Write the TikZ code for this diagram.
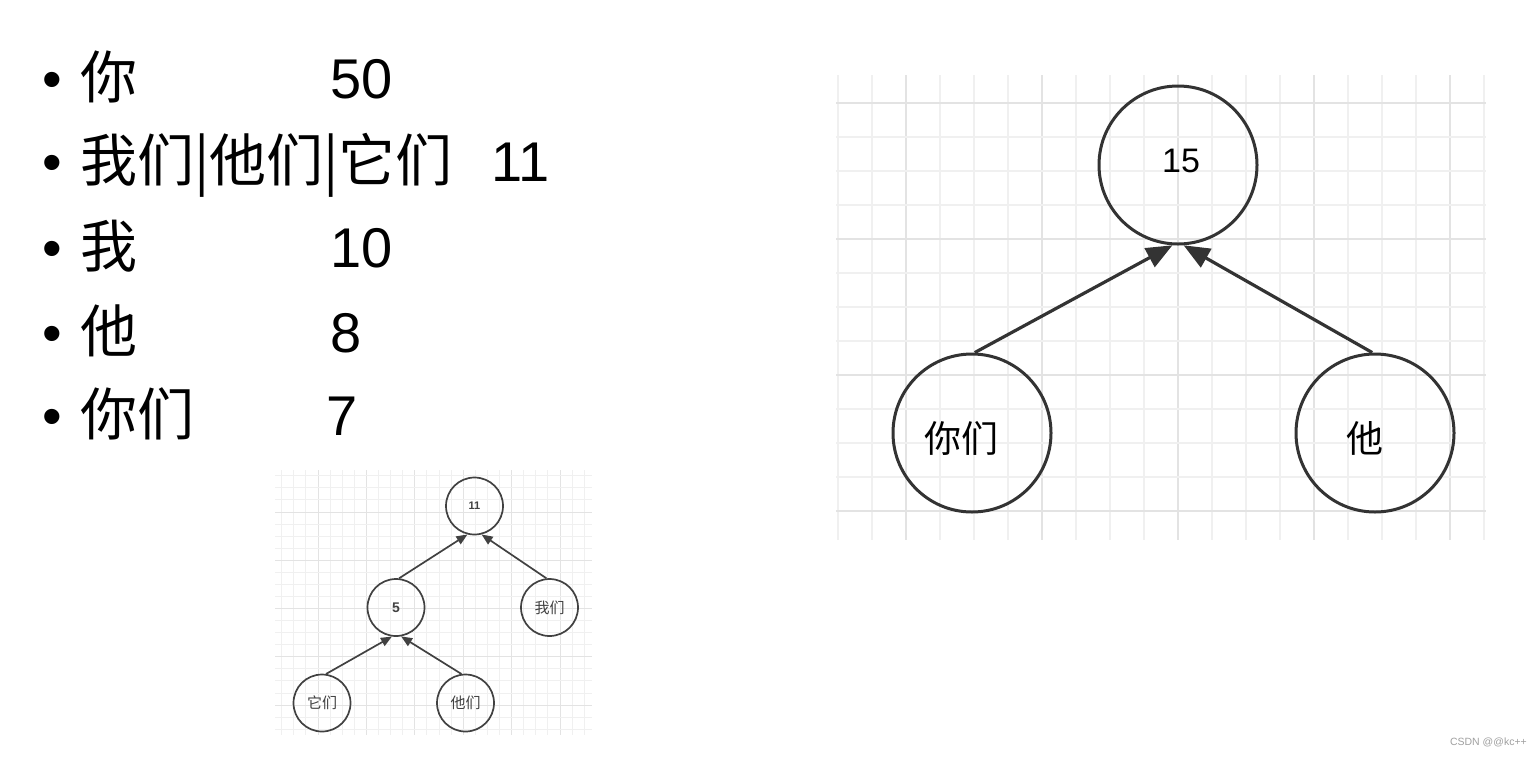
\documentclass[tikz,border=0pt]{standalone}
\usepackage{fontspec}
\setmainfont{Liberation Sans}
\newfontfamily\cjk{Noto Sans CJK SC}
\usetikzlibrary{arrows.meta}
\definecolor{gridl}{RGB}{240,240,240}
\definecolor{gridd}{RGB}{227,227,227}
\definecolor{ink}{RGB}{51,51,51}
\definecolor{softink}{RGB}{65,65,65}
\definecolor{wm}{RGB}{160,160,160}
\begin{document}
\begin{tikzpicture}[x=1pt,y=-1pt,
  bignode/.style={circle,draw=ink,line width=3pt,minimum size=158pt,inner sep=0pt},
  smallnode/.style={circle,draw=softink,line width=1.7pt,minimum size=57pt,inner sep=0pt,text=softink},
  bigarrow/.style={draw=ink,line width=3.2pt,-{Triangle[length=26pt,width=21pt]}},
  smallarrow/.style={draw=softink,line width=1.7pt,-{Triangle[length=11pt,width=9pt]}},
  listtxt/.style={anchor=base west,inner sep=0pt,font=\cjk\fontsize{57pt}{60pt}\selectfont},
  listnum/.style={anchor=base west,inner sep=0pt,font=\fontsize{56pt}{60pt}\selectfont},
  bulletmark/.style={anchor=base,inner sep=0pt,font=\fontsize{56pt}{60pt}\selectfont},
  bigcjk/.style={font=\cjk\fontsize{37pt}{40pt}\selectfont},
  smallcjk/.style={font=\cjk\fontsize{15pt}{17pt}\selectfont},
]
\useasboundingbox (0,0) rectangle (1536,756);
\fill[white] (0,0) rectangle (1536,756);

% ---------- big grid ----------
\foreach \k in {0,...,19}{
  \pgfmathtruncatemacro{\m}{mod(\k,4)}
  \ifnum\m=2 \def\gc{gridd}\else\def\gc{gridl}\fi
  \draw[\gc,line width=1.6pt] ({838+34*\k},75) -- ({838+34*\k},540);
}
\foreach \k in {0,...,12}{
  \pgfmathtruncatemacro{\m}{mod(\k,4)}
  \ifnum\m=0 \def\gc{gridd}\else\def\gc{gridl}\fi
  \draw[\gc,line width=1.6pt] (836,{103+34*\k}) -- (1486,{103+34*\k});
}

% ---------- small grid ----------
\foreach \k in {-3,...,22}{
  \pgfmathtruncatemacro{\m}{mod(\k+40,4)}
  \ifnum\m=0 \def\gc{gridd}\else\def\gc{gridl}\fi
  \draw[\gc,line width=1pt] ({318+12.1*\k},470) -- ({318+12.1*\k},735);
}
\foreach \k in {-3,...,18}{
  \pgfmathtruncatemacro{\m}{mod(\k+40,4)}
  \ifnum\m=0 \def\gc{gridd}\else\def\gc{gridl}\fi
  \draw[\gc,line width=1pt] (275,{512+12.07*\k}) -- (592,{512+12.07*\k});
}

% ---------- list ----------
\foreach \b [count=\i] in {98,181,267,352,435}{
  \node[bulletmark] (bul\i) at (52,\b) {•};
}
\node[listtxt] (t1) at (80,98) {你};
\node[listtxt] (t2) at (80,181) {我们|他们|它们};
\node[listtxt] (t3) at (80,267) {我};
\node[listtxt] (t4) at (80,352) {他};
\node[listtxt] (t5) at (80,435) {你们};
\node[listnum] (v1) at (330,98) {50};
\node[listnum] (v2) at (491,181) {11};
\node[listnum] (v3) at (330,267) {10};
\node[listnum] (v4) at (330,352) {8};
\node[listnum] (v5) at (326,435) {7};

% ---------- big tree ----------
\node[bignode,label={[font=\fontsize{34pt}{36pt}\selectfont,shift={(3,-4)}]center:15}] (top) at (1178,165) {};
\node[bignode,label={[bigcjk,shift={(-11,5)}]center:你们}] (left) at (972,433) {};
\node[bignode,label={[bigcjk,shift={(-10,5)}]center:他}] (right) at (1375,433) {};
\draw[bigarrow] (left.88) -- (top.266);
\draw[bigarrow] (right.92) -- (top.274);

% ---------- small tree ----------
\node[smallnode,font=\bfseries\fontsize{11pt}{13pt}\selectfont] (n11) at (474.5,506) {11};
\node[smallnode,font=\bfseries\fontsize{14pt}{16pt}\selectfont] (n5) at (396,607.5) {5};
\node[smallnode,smallcjk] (nwm) at (549.5,607.5) {我们};
\node[smallnode,smallcjk] (nta) at (322,703) {它们};
\node[smallnode,smallcjk] (ntm) at (465.5,703) {他们};
\draw[smallarrow] (n5.84) -- (n11.256);
\draw[smallarrow] (nwm.96) -- (n11.284);
\draw[smallarrow] (nta.82) -- (n5.262);
\draw[smallarrow] (ntm.98) -- (n5.280);

% ---------- watermark ----------
\node[anchor=east,inner sep=0pt,text=wm,font=\fontsize{10.5pt}{12pt}\selectfont] (wmk) at (1527,742) {CSDN @@kc++};
\end{tikzpicture}
\end{document}
